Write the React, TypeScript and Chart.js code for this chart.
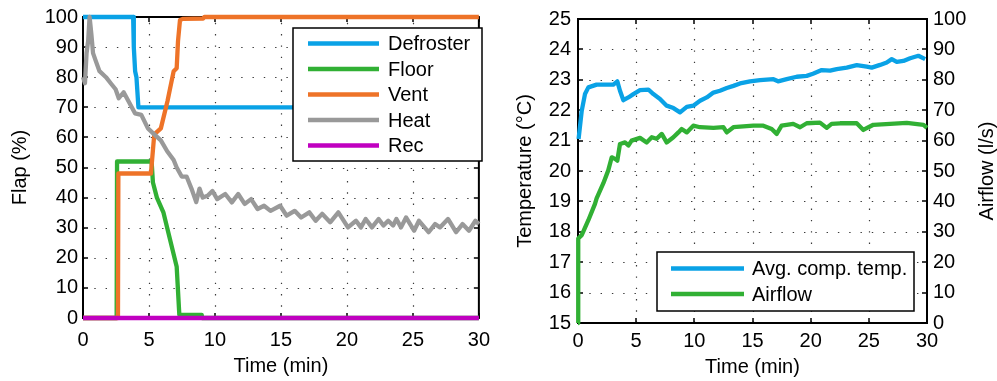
import { useEffect, useRef } from "react";
import { Chart, registerables } from "chart.js";

Chart.register(...registerables);

const FONT = "'Liberation Sans', Arial, Helvetica, sans-serif";
const FONT_SIZE = 20;

// ---- Flap positions (%) versus time (min) ----
const defroster: [number, number][] = [
  [0, 100], [3.8, 100], [3.85, 90], [3.95, 82], [4.05, 80], [4.2, 70], [30, 70],
];
const floor: [number, number][] = [
  [0, 0], [2.55, 0], [2.58, 52], [5.2, 52], [5.3, 45], [5.6, 40], [6.1, 35],
  [6.6, 26], [7.1, 17], [7.3, 1], [9, 1], [9.02, 0], [30, 0],
];
const vent: [number, number][] = [
  [0, 0], [2.65, 0], [2.68, 48], [5.15, 48], [5.4, 61], [5.9, 63], [6.4, 72],
  [6.87, 82], [7.1, 83], [7.2, 92], [7.35, 99], [7.6, 99.4], [9.1, 99.5],
  [9.2, 100], [30, 100],
];
const heat: [number, number][] = [
  [0, 80], [0.15, 78], [0.27, 88], [0.39, 92], [0.5, 100], [0.64, 94], [0.76, 88],
  [1.0, 85], [1.25, 82], [1.74, 80], [2.1, 78], [2.47, 76], [2.71, 73], [3.08, 75],
  [3.45, 72], [3.94, 68], [4.42, 67.5], [4.92, 63], [5.4, 61], [5.9, 59],
  [6.38, 55.4], [6.87, 52.5], [7.1, 50], [7.48, 47], [7.85, 47], [8.22, 43],
  [8.58, 38.5], [8.83, 43], [9.07, 40], [9.44, 40.6], [9.81, 42.2], [10.17, 39.5],
  [10.78, 41.2], [11.28, 38.4], [11.76, 41.2], [12.25, 37.9], [12.74, 39.5],
  [13.23, 36.2], [13.72, 37.3], [14.21, 35.6], [14.94, 37.3], [15.43, 34],
  [16.04, 35.6], [16.53, 33.4], [17.15, 35.1], [17.63, 32.3], [18.12, 34.6],
  [18.73, 31.8], [19.35, 35.1], [20.08, 30.1], [20.69, 32.3], [21.06, 30.1],
  [21.42, 32.9], [21.9, 30.1], [22.4, 32.9], [22.77, 30.7], [23.13, 32.3],
  [23.5, 30.7], [23.75, 32.9], [24.1, 30.1], [24.48, 33.4], [25.09, 29],
  [25.46, 32.3], [26.19, 28.5], [26.68, 31.2], [27.05, 30.1], [27.66, 32.9],
  [28.27, 28.5], [28.76, 31.2], [29.25, 29], [29.74, 32.3], [30, 31.2],
];
const rec: [number, number][] = [[0, 0], [30, 0]];

// ---- Cabin temperature (°C) and airflow (l/s) versus time (min) ----
const avgCompTemp: [number, number][] = [
  [0.05, 21.05], [0.32, 21.98], [0.6, 22.53], [0.89, 22.75], [1.6, 22.84],
  [3.04, 22.84], [3.38, 22.95], [3.61, 22.64], [3.9, 22.33], [4.33, 22.42],
  [4.76, 22.53], [5.33, 22.66], [6.05, 22.68], [6.48, 22.53], [7.05, 22.37],
  [7.62, 22.15], [8.2, 22.07], [8.77, 21.93], [9.35, 22.11], [9.91, 22.15],
  [10.49, 22.31], [11.07, 22.42], [11.64, 22.58], [12.2, 22.64], [12.79, 22.73],
  [13.36, 22.8], [13.93, 22.88], [14.79, 22.95], [15.65, 22.99], [16.8, 23.02],
  [17.2, 22.95], [17.94, 23.02], [18.8, 23.1], [19.66, 23.13], [20.2, 23.2],
  [20.95, 23.32], [21.67, 23.3], [22.24, 23.35], [23.1, 23.4], [23.96, 23.48],
  [24.82, 23.43], [25.25, 23.4], [25.97, 23.49], [26.54, 23.57], [26.97, 23.68],
  [27.4, 23.59], [27.97, 23.62], [28.55, 23.71], [29.26, 23.79], [29.84, 23.68],
];
const airflow: [number, number][] = [
  [0, 0], [0.02, 27.8], [0.32, 28.9], [0.89, 33.8], [1.46, 39.2], [1.6, 41],
  [2.18, 46], [2.6, 50.2], [2.9, 54.5], [3.18, 54], [3.38, 53.4], [3.61, 58.9],
  [4.04, 59.4], [4.33, 58.4], [4.61, 60], [5.33, 60.9], [5.9, 59.4], [6.34, 61.1],
  [6.76, 60.6], [7.2, 62.2], [7.62, 59.4], [8.2, 61.1], [8.63, 62.7], [8.91, 63.8],
  [9.35, 62.7], [9.91, 64.9], [10.49, 64.4], [11.64, 64.2], [12.5, 64.4],
  [12.79, 62.7], [13.36, 64.4], [13.93, 64.6], [15.07, 64.9], [15.93, 64.9],
  [16.65, 63.8], [17.08, 62.2], [17.5, 64.9], [18.5, 65.5], [19.09, 64.4],
  [19.66, 65.7], [20.8, 65.9], [21.38, 64.2], [21.8, 65.5], [22.53, 65.7],
  [23.96, 65.7], [24.53, 63.5], [24.97, 64.4], [25.39, 65.2], [26.83, 65.5],
  [28.26, 65.8], [29.7, 65.2], [30, 64.2],
];

const flapLabels = ["Defroster", "Floor", "Vent", "Heat", "Rec"];
const flapSeries = [defroster, floor, vent, heat, rec];
const flapColors = ["#0aa2e6", "#31b034", "#ee7328", "#999999", "#c000c0"];

const climateLabels = ["Avg. comp. temp.", "Airflow"];
const climateColors = ["#0aa2e6", "#31b034"];

const LINE_WIDTH = 4.3;

const toXY = (s: [number, number][]) => s.map(([x, y]) => ({ x, y }));

// Draws a boxed axes frame with dotted grid, inward ticks, an in-plot legend
// and an optional right-hand title that reads bottom to top.
const boxedAxes = {
  id: "boxedAxes",
  beforeDatasetsDraw(chart: any, _args: any, opts: any) {
    const { ctx, chartArea: a, scales } = chart;
    const xs = scales.x;
    const ys = scales.y;
    const yr = scales.y1 || scales.y;
    ctx.save();

    // dotted grid
    ctx.strokeStyle = "#3a3a3a";
    ctx.lineWidth = 1.2;
    ctx.setLineDash([1.4, 9.9]);
    xs.ticks.forEach((t: any) => {
      const px = Math.round(xs.getPixelForValue(t.value)) + 0.5;
      if (px <= a.left + 2 || px >= a.right - 2) return;
      ctx.beginPath();
      ctx.moveTo(px, a.bottom);
      ctx.lineTo(px, a.top);
      ctx.stroke();
    });
    ys.ticks.forEach((t: any) => {
      const py = Math.round(ys.getPixelForValue(t.value)) + 0.5;
      if (py <= a.top + 2 || py >= a.bottom - 2) return;
      ctx.beginPath();
      ctx.moveTo(a.left, py);
      ctx.lineTo(a.right, py);
      ctx.stroke();
    });
    ctx.setLineDash([]);

    // frame
    ctx.strokeStyle = "#000";
    ctx.lineWidth = 2;
    ctx.strokeRect(a.left, a.top, a.right - a.left, a.bottom - a.top);

    // inward tick marks
    const tl = opts.tickLength || 5;
    ctx.lineWidth = 1.5;
    ctx.beginPath();
    xs.ticks.forEach((t: any) => {
      const px = Math.round(xs.getPixelForValue(t.value));
      ctx.moveTo(px, a.bottom);
      ctx.lineTo(px, a.bottom - tl);
      ctx.moveTo(px, a.top);
      ctx.lineTo(px, a.top + tl);
    });
    ys.ticks.forEach((t: any) => {
      const py = Math.round(ys.getPixelForValue(t.value));
      ctx.moveTo(a.left, py);
      ctx.lineTo(a.left + tl, py);
    });
    yr.ticks.forEach((t: any) => {
      const py = Math.round(yr.getPixelForValue(t.value));
      ctx.moveTo(a.right, py);
      ctx.lineTo(a.right - tl, py);
    });
    ctx.stroke();
    ctx.restore();
  },
  afterDatasetsDraw(chart: any, _args: any, opts: any) {
    const { ctx } = chart;
    const lg = opts.legend;
    ctx.save();
    if (lg) {
      ctx.fillStyle = "#fff";
      ctx.fillRect(lg.left, lg.top, lg.right - lg.left, lg.bottom - lg.top);
      ctx.strokeStyle = "#000";
      ctx.lineWidth = 1.5;
      ctx.strokeRect(lg.left, lg.top, lg.right - lg.left, lg.bottom - lg.top);
      ctx.font = `${FONT_SIZE}px ${FONT}`;
      ctx.textAlign = "left";
      ctx.textBaseline = "middle";
      chart.data.datasets.forEach((ds: any, i: number) => {
        const y = lg.rows[i];
        ctx.strokeStyle = ds.borderColor;
        ctx.lineWidth = LINE_WIDTH;
        ctx.beginPath();
        ctx.moveTo(lg.sampleFrom, y);
        ctx.lineTo(lg.sampleTo, y);
        ctx.stroke();
        ctx.fillStyle = "#000";
        ctx.fillText(ds.label, lg.textX, y + 1);
      });
    }
    const rt = opts.rightTitle;
    if (rt) {
      ctx.translate(rt.x, rt.y);
      ctx.rotate(-Math.PI / 2);
      ctx.font = `${FONT_SIZE}px ${FONT}`;
      ctx.fillStyle = "#000";
      ctx.textAlign = "center";
      ctx.textBaseline = "middle";
      ctx.fillText(rt.text, 0, 0);
    }
    ctx.restore();
  },
};

const tickFont = { family: FONT, size: FONT_SIZE };

function timeAxis(labelPadding: number, titlePadding: number, height: number) {
  return {
    type: "linear" as const,
    min: 0,
    max: 30,
    grid: { display: false, drawTicks: false },
    border: { display: false },
    ticks: { stepSize: 5, font: tickFont, color: "#000", padding: labelPadding },
    title: {
      display: true,
      text: "Time (min)",
      font: tickFont,
      color: "#000",
      padding: { top: 0, bottom: titlePadding },
    },
    afterFit: (s: any) => {
      s.height = height;
    },
  };
}

const lineStyle = (color: string) => ({
  borderColor: color,
  backgroundColor: color,
  borderWidth: LINE_WIDTH,
  pointRadius: 0,
  tension: 0,
  borderJoinStyle: "round" as const,
  clip: 6,
});

function FlapChart() {
  const ref = useRef<HTMLCanvasElement | null>(null);
  useEffect(() => {
    if (!ref.current) return;
    const chart = new Chart(ref.current, {
      type: "line",
      data: {
        datasets: flapSeries.map((s, i) => ({
          label: flapLabels[i],
          data: toXY(s),
          ...lineStyle(flapColors[i]),
          order: flapSeries.length - i,
        })),
      },
      options: {
        responsive: false,
        animation: false,
        events: [],
        layout: { padding: { top: 15, right: 8, left: 0, bottom: 0 } },
        scales: {
          x: timeAxis(10, 3, 63),
          y: {
            type: "linear",
            min: 0,
            max: 100,
            grid: { display: false, drawTicks: false },
            border: { display: false },
            ticks: { stepSize: 10, font: tickFont, color: "#000", padding: 5 },
            title: {
              display: true,
              text: "Flap (%)",
              font: tickFont,
              color: "#000",
              padding: { top: 8, bottom: 0 },
            },
            afterFit: (s: any) => {
              s.width = 83;
            },
          },
        },
        plugins: {
          legend: { display: false },
          tooltip: { enabled: false },
          boxedAxes: {
            legend: {
              left: 293,
              top: 28,
              right: 482,
              bottom: 161,
              sampleFrom: 308,
              sampleTo: 379,
              textX: 388,
              rows: [43.5, 69, 94.5, 120, 145.5],
            },
          },
        } as any,
      },
      plugins: [boxedAxes],
    });
    return () => chart.destroy();
  }, []);
  return (
    <canvas
      ref={ref}
      width={500}
      height={381}
      style={{ position: "absolute", left: 0, top: 0 }}
    />
  );
}

function ClimateChart() {
  const ref = useRef<HTMLCanvasElement | null>(null);
  useEffect(() => {
    if (!ref.current) return;
    const chart = new Chart(ref.current, {
      type: "line",
      data: {
        datasets: [
          {
            label: climateLabels[0],
            data: toXY(avgCompTemp),
            yAxisID: "y",
            ...lineStyle(climateColors[0]),
          },
          {
            label: climateLabels[1],
            data: toXY(airflow),
            yAxisID: "y1",
            ...lineStyle(climateColors[1]),
          },
        ],
      },
      options: {
        responsive: false,
        animation: false,
        events: [],
        layout: { padding: { top: 18, right: 0, left: 0, bottom: 0 } },
        scales: {
          x: timeAxis(6, 2, 58),
          y: {
            type: "linear",
            position: "left",
            min: 15,
            max: 25,
            grid: { display: false, drawTicks: false },
            border: { display: false },
            ticks: { stepSize: 1, font: tickFont, color: "#000", padding: 7 },
            title: {
              display: true,
              text: "Temperature (°C)",
              font: tickFont,
              color: "#000",
              padding: { top: 13, bottom: 0 },
            },
            afterFit: (s: any) => {
              s.width = 78;
            },
          },
          y1: {
            type: "linear",
            position: "right",
            min: 0,
            max: 100,
            grid: { display: false, drawTicks: false },
            border: { display: false },
            ticks: { stepSize: 10, font: tickFont, color: "#000", padding: 6 },
            afterFit: (s: any) => {
              s.width = 70;
            },
          },
        },
        plugins: {
          legend: { display: false },
          tooltip: { enabled: false },
          boxedAxes: {
            legend: {
              left: 157,
              top: 252,
              right: 414,
              bottom: 311,
              sampleFrom: 171,
              sampleTo: 244,
              textX: 252,
              rows: [268.5, 294],
            },
            rightTitle: { text: "Airflow (l/s)", x: 487, y: 171 },
          },
        } as any,
      },
      plugins: [boxedAxes],
    });
    return () => chart.destroy();
  }, []);
  return (
    <canvas
      ref={ref}
      width={497}
      height={381}
      style={{ position: "absolute", left: 500, top: 0 }}
    />
  );
}

export default function App() {
  return (
    <div
      style={{
        position: "absolute",
        left: 0,
        top: 0,
        width: 997,
        height: 381,
        background: "#fff",
        overflow: "hidden",
      }}
    >
      <FlapChart />
      <ClimateChart />
    </div>
  );
}
